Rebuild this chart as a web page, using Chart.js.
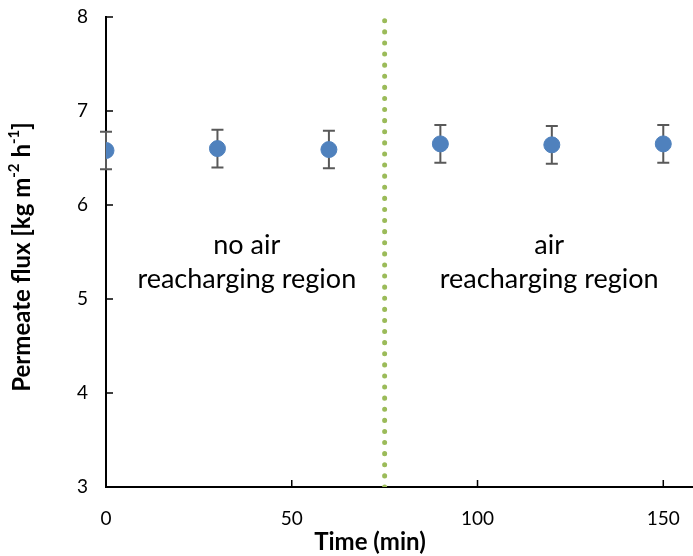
<!DOCTYPE html>
<html>
<head>
<meta charset="utf-8">
<script src="https://cdn.jsdelivr.net/npm/chart.js@4/dist/chart.umd.min.js"></script>
<style>
  html, body { margin: 0; padding: 0; background: #fff; }
  #wrap { width: 693px; height: 556px; }
</style>
</head>
<body>
<div id="wrap"><canvas id="fluxChart" width="693" height="556"></canvas></div>
<script>
// DATA
const timeMin = [0, 30, 60, 90, 120, 150];
const fluxValues = [6.58, 6.60, 6.59, 6.65, 6.64, 6.65];
const fluxErrors = [0.20, 0.20, 0.20, 0.20, 0.20, 0.20];
const dividerTime = [75, 75];
const dividerFlux = [3, 8];
const xTickValues = [0, 50, 100, 150];
const leftRegionText = ['no air', 'reacharging region'];
const rightRegionText = ['air', 'reacharging region'];

const FONT = 'Lato, "Open Sans", sans-serif';

// error bars, inside ticks, titles and region text
const extrasPlugin = {
    id: 'extras',
    beforeDatasetsDraw(chart) {
        const ctx = chart.ctx;
        const xs = chart.scales.x, ys = chart.scales.y;
        ctx.save();
        ctx.strokeStyle = '#595959';
        ctx.lineWidth = 2;
        timeMin.forEach((t, i) => {
            const px = xs.getPixelForValue(t);
            const top = ys.getPixelForValue(fluxValues[i] + fluxErrors[i]);
            const bot = ys.getPixelForValue(fluxValues[i] - fluxErrors[i]);
            ctx.beginPath();
            ctx.moveTo(px, top); ctx.lineTo(px, bot);
            ctx.moveTo(px - 6, top); ctx.lineTo(px + 6, top);
            ctx.moveTo(px - 6, bot); ctx.lineTo(px + 6, bot);
            ctx.stroke();
        });
        ctx.restore();
    },
    afterDraw(chart) {
        const ctx = chart.ctx;
        const xs = chart.scales.x, ys = chart.scales.y;
        const area = chart.chartArea;
        ctx.save();
        // inside tick marks
        ctx.strokeStyle = '#000';
        ctx.lineWidth = 1.5;
        ctx.beginPath();
        ys.ticks.forEach(tk => {
            const py = ys.getPixelForValue(tk.value);
            ctx.moveTo(area.left, py); ctx.lineTo(area.left + 7, py);
        });
        xs.ticks.forEach(tk => {
            const px = xs.getPixelForValue(tk.value);
            ctx.moveTo(px, area.bottom); ctx.lineTo(px, area.bottom - 7);
        });
        ctx.stroke();

        // region labels
        ctx.fillStyle = '#000';
        ctx.font = '27px ' + FONT;
        ctx.textAlign = 'center';
        ctx.textBaseline = 'middle';
        const yA = ys.getPixelForValue(5.57), yB = ys.getPixelForValue(5.21);
        const xl = xs.getPixelForValue(37.9), xr = xs.getPixelForValue(119.3);
        ctx.fillText(leftRegionText[0], xl, yA);
        ctx.fillText(leftRegionText[1], xl, yB);
        ctx.fillText(rightRegionText[0], xr, yA);
        ctx.fillText(rightRegionText[1], xr, yB);

        // x title
        ctx.font = 'bold 24px ' + FONT;
        ctx.fillText('Time (min)', 370, 542);

        // y title with superscripts
        const parts = [
            ['Permeate flux [kg m', false], ['-2', true], [' h', false], ['-1', true], [']', false]
        ];
        const big = 'bold 24px ' + FONT, small = 'bold 15px ' + FONT;
        let total = 0;
        parts.forEach(p => { ctx.font = p[1] ? small : big; total += ctx.measureText(p[0]).width; });
        ctx.translate(22, 257);
        ctx.rotate(-Math.PI / 2);
        ctx.textAlign = 'left';
        let cx = -total / 2;
        parts.forEach(p => {
            ctx.font = p[1] ? small : big;
            ctx.fillText(p[0], cx, p[1] ? -8 : 0);
            cx += ctx.measureText(p[0]).width;
        });
        ctx.restore();
    }
};

new Chart(document.getElementById('fluxChart'), {
    type: 'scatter',
    data: {
        datasets: [
            {
                label: 'flux',
                data: timeMin.map((t, i) => ({ x: t, y: fluxValues[i] })),
                backgroundColor: '#4F81BD',
                borderColor: '#4F81BD',
                pointRadius: 8,
                pointHoverRadius: 8,
                order: 1
            },
            {
                label: 'divider',
                type: 'line',
                data: dividerTime.map((t, i) => ({ x: t, y: dividerFlux[i] })),
                borderColor: '#9BBB59',
                borderWidth: 5,
                borderDash: [0.1, 11],
                borderCapStyle: 'round',
                pointRadius: 0,
                fill: false,
                order: 2
            }
        ]
    },
    options: {
        responsive: false,
        animation: false,
        layout: { autoPadding: false, padding: { top: 17, right: 0, left: 0, bottom: 0 } },
        plugins: { legend: { display: false }, tooltip: { enabled: false } },
        scales: {
            x: {
                type: 'linear',
                min: 0,
                max: 158,
                afterBuildTicks: s => { s.ticks = xTickValues.map(v => ({ value: v })); },
                afterFit: s => { s.height = 69; s.paddingLeft = 0; s.paddingRight = 0; },
                grid: { display: false, drawTicks: true, tickLength: 20 },
                border: { display: true, color: '#000', width: 2 },
                ticks: { color: '#000', font: { family: FONT, size: 19 }, padding: 0, maxRotation: 0 }
            },
            y: {
                min: 3,
                max: 8,
                afterFit: s => { s.width = 106; s.paddingTop = 0; s.paddingBottom = 0; },
                grid: { display: false, drawTicks: false },
                border: { display: true, color: '#000', width: 2 },
                ticks: { stepSize: 1, color: '#000', font: { family: FONT, size: 19 }, padding: 18 }
            }
        }
    },
    plugins: [extrasPlugin]
});
</script>
</body>
</html>
